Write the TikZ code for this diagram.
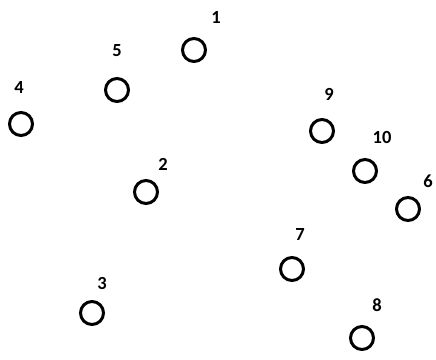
\documentclass[tikz,border=0pt]{standalone}
\usepackage{fontspec}
\setmainfont{Carlito}
\begin{document}
\begin{tikzpicture}[x=1pt,y=-1pt,
  vertex/.style={circle,draw=black,line width=3pt,minimum size=23pt,inner sep=0pt},
  num/.style={font=\fontsize{18.5}{20}\selectfont\bfseries,inner sep=0pt}]
\useasboundingbox (0,0) rectangle (436,359);
\node[vertex] (c1) at (194,50) {};
\node[vertex] (c2) at (146,192) {};
\node[vertex] (c3) at (92,313) {};
\node[vertex] (c4) at (21,124) {};
\node[vertex] (c5) at (117,90) {};
\node[vertex] (c6) at (408,209) {};
\node[vertex] (c7) at (292,269) {};
\node[vertex] (c8) at (362,338) {};
\node[vertex] (c9) at (322,131) {};
\node[vertex] (c10) at (365,171) {};
\node[num] (l1) at (216,17) {1};
\node[num] (l2) at (163,164) {2};
\node[num] (l3) at (102,283) {3};
\node[num] (l4) at (19,87) {4};
\node[num] (l5) at (117,51) {5};
\node[num] (l6) at (428,181) {6};
\node[num] (l7) at (300,234) {7};
\node[num] (l8) at (377,305) {8};
\node[num] (l9) at (329,94) {9};
\node[num] (l10) at (382,137) {10};
\end{tikzpicture}
\end{document}
